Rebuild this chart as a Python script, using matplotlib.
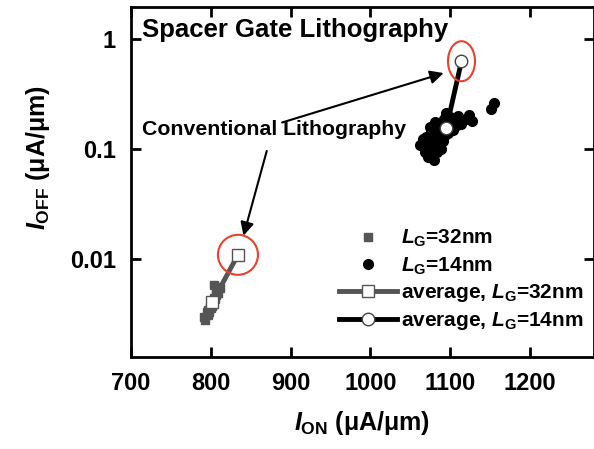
import matplotlib
matplotlib.use('Agg')
import matplotlib.pyplot as plt
import matplotlib.transforms as transforms
from matplotlib.patches import Ellipse

plt.rcParams['font.family'] = 'Liberation Sans'
plt.rcParams['font.weight'] = 'bold'
plt.rcParams['mathtext.fontset'] = 'custom'
plt.rcParams['mathtext.rm'] = 'Liberation Sans:bold'
plt.rcParams['mathtext.it'] = 'Liberation Sans:italic:bold'
plt.rcParams['mathtext.bf'] = 'Liberation Sans:bold'

# L_G = 32nm devices (I_ON, I_OFF)
ion_32 = [791, 793, 795, 796, 797, 798, 799, 800, 801, 802,
          803, 804, 805, 806, 807, 808, 809, 810, 804, 812]
ioff_32 = [0.0030, 0.0028, 0.0033, 0.0031, 0.0035, 0.0033, 0.0037, 0.0036, 0.0040, 0.0038,
           0.0042, 0.0045, 0.0044, 0.0048, 0.0047, 0.0052, 0.0050, 0.0056, 0.0058, 0.0055]

# L_G = 14nm devices
ion_14 = [1062, 1068, 1072, 1075, 1078, 1080, 1082, 1085, 1088, 1090,
          1070, 1074, 1077, 1081, 1084, 1087, 1092, 1095, 1098, 1100,
          1103, 1106, 1110, 1113, 1116, 1120, 1124, 1127, 1079, 1083,
          1086, 1091, 1094, 1097, 1073, 1076, 1089, 1093, 1151, 1155,
          1104, 1108, 1066, 1071]
ioff_14 = [0.110, 0.095, 0.085, 0.120, 0.090, 0.140, 0.105, 0.130, 0.100, 0.150,
           0.130, 0.160, 0.110, 0.175, 0.150, 0.125, 0.190, 0.215, 0.175, 0.195,
           0.160, 0.180, 0.200, 0.170, 0.185, 0.190, 0.205, 0.180, 0.080, 0.095,
           0.145, 0.120, 0.170, 0.140, 0.100, 0.145, 0.165, 0.135, 0.230, 0.265,
           0.150, 0.165, 0.125, 0.115]

# averages: spacer gate lithography (first) and conventional lithography (second)
avg_ion_32 = [802, 834]
avg_ioff_32 = [0.0041, 0.011]
avg_ion_14 = [1095, 1114]
avg_ioff_14 = [0.155, 0.63]

fig = plt.figure(figsize=(5.94, 4.49), dpi=100)
ax = fig.add_axes([0.2205, 0.205, 0.7795, 0.779])

ax.plot(ion_32, ioff_32, 's', color='#555555', markersize=6, label='$L_{\\mathrm{G}}$=32nm', zorder=2)
ax.plot(ion_14, ioff_14, 'o', color='black', markersize=7, label='$L_{\\mathrm{G}}$=14nm', zorder=2)
ax.plot(avg_ion_32, avg_ioff_32, '-s', color='#555555', lw=3.5, markersize=8,
        markerfacecolor='white', markeredgecolor='#555555', markeredgewidth=1,
        label='average, $L_{\\mathrm{G}}$=32nm', zorder=3)
ax.plot(avg_ion_14, avg_ioff_14, '-o', color='black', lw=3.5, markersize=9,
        markerfacecolor='white', markeredgecolor='#444444', markeredgewidth=1,
        label='average, $L_{\\mathrm{G}}$=14nm', zorder=3)

# red circles round the conventional lithography averages
for x, y, w, h in [(avg_ion_32[1], avg_ioff_32[1], 0.40, 0.40),
                   (avg_ion_14[1], avg_ioff_14[1], 0.27, 0.40)]:
    trans = fig.dpi_scale_trans + transforms.ScaledTranslation(x, y, ax.transData)
    ax.add_patch(Ellipse((0, 0), w, h, transform=trans, fill=False,
                         edgecolor='#e8412c', lw=1.5, zorder=4))

ax.text(0.024, 0.935, 'Spacer Gate Lithography', transform=ax.transAxes,
        fontsize=18.5, fontweight='bold', va='center', ha='left')
ax.text(0.024, 0.65, 'Conventional Lithography', transform=ax.transAxes,
        fontsize=15.3, fontweight='bold', va='center', ha='left')
arrow = dict(arrowstyle='-|>', color='black', lw=1.5, mutation_scale=20)
ax.annotate('', xy=(1095, 0.50), xytext=(886, 0.172), arrowprops=arrow)
ax.annotate('', xy=(840, 0.0155), xytext=(871, 0.102), arrowprops=arrow)

ax.set_yscale('log')
ax.set_xlim(700, 1280)
ax.set_ylim(0.0013, 1.95)
ax.set_xticks([700, 800, 900, 1000, 1100, 1200])
ax.set_yticks([0.01, 0.1, 1])
ax.set_yticklabels(['0.01', '0.1', '1'])
ax.minorticks_off()
ax.tick_params(direction='in', length=7, width=2, top=True, right=True, labelsize=17, pad=11)
for s in ax.spines.values():
    s.set_linewidth(2)

ax.set_xlabel('$I_{\\mathrm{ON}}$ (\u03bcA/\u03bcm)', fontsize=18, fontweight='bold', labelpad=10)
ax.set_ylabel('$I_{\\mathrm{OFF}}$ (\u03bcA/\u03bcm)', fontsize=18, fontweight='bold', labelpad=4)
ax.yaxis.set_label_coords(-0.17, 0.57)

ax.legend(loc='lower right', bbox_to_anchor=(1.005, 0.035), frameon=False, fontsize=15,
          handlelength=2.8, handletextpad=0.2, labelspacing=0.28, borderaxespad=0.2)

fig.savefig('out.png', dpi=100)
